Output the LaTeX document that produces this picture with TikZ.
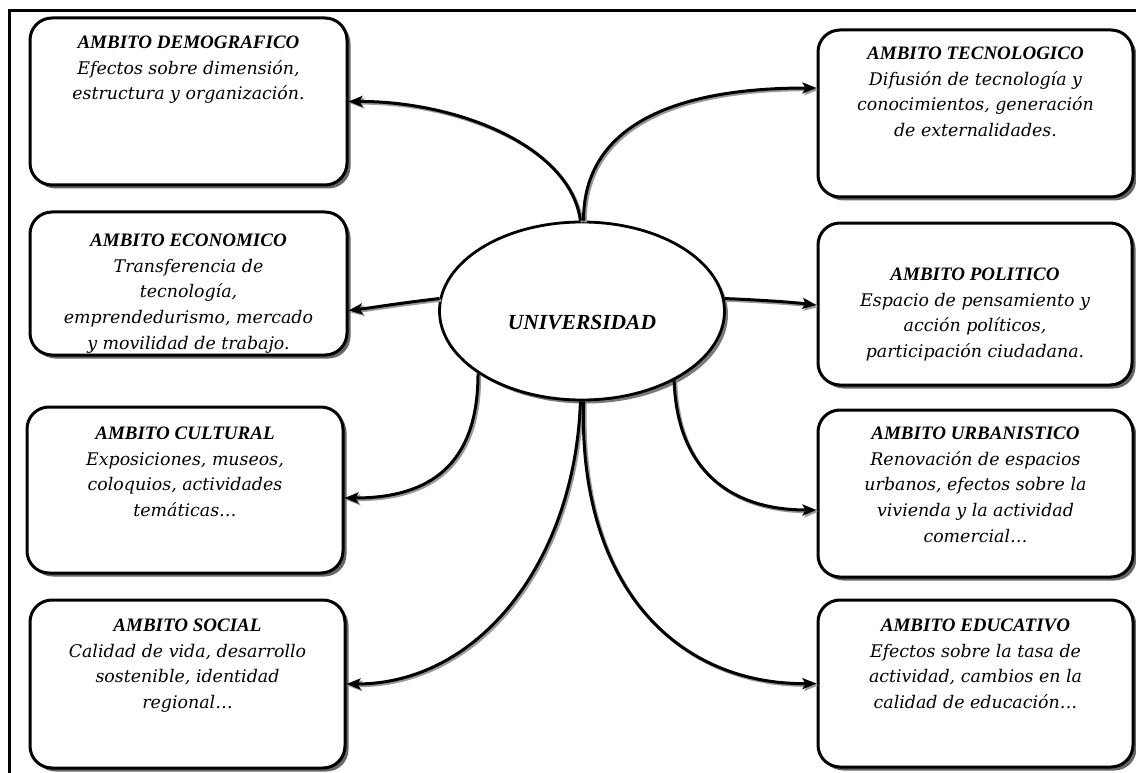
\documentclass[tikz,border=0pt]{standalone}
\usepackage{fontspec}
\setmainfont{Liberation Serif}
\newfontfamily\bodyfont{DejaVu Serif}
\newfontfamily\headfont{Liberation Serif}
\usetikzlibrary{shapes.geometric,shadows,arrows.meta}
\newcommand\hdr{\headfont\bfseries\itshape\fontsize{19}{25.5}\selectfont}

\tikzset{
  ambox/.style={draw, line width=3pt, rounded corners=22pt, fill=white,
    drop shadow={shadow xshift=3.5pt, shadow yshift=-3.5pt, opacity=.8, fill=black!75}},
  amtext/.style={anchor=north, inner sep=0pt, align=center,
    font=\bodyfont\itshape\fontsize{17.4}{25.8}\selectfont},
  conn/.style={line width=3pt, -{Stealth[length=14pt,width=11pt,inset=3pt]},
    preaction={draw=black!40, line width=2.8pt,
      transform canvas={shift={(1.8pt,-1.8pt)}}}},
}

\begin{document}
\begin{tikzpicture}[x=1pt, y=-1pt]
\useasboundingbox (0,0) rectangle (1136,773);

% page frame
\draw[line width=3pt] (9,790) -- (9,11) -- (1150,11);

% central ellipse
\node[ellipse, draw, line width=2.8pt, fill=white, minimum width=285pt, minimum height=178pt,
  drop shadow={shadow xshift=3.5pt, shadow yshift=-3.5pt, opacity=.7, fill=black!75}]
  (U) at (582,311) {};
\node[font=\headfont\bfseries\itshape\fontsize{21.5}{26}\selectfont] (Ut) at (582,323) {UNIVERSIDAD};

% left column
\node[ambox, minimum width=317pt, minimum height=167pt] (D) at (188.5,101.5) {};
\node[ambox, minimum width=317pt, minimum height=143pt] (E) at (188.5,283.5) {};
\node[ambox, minimum width=316pt, minimum height=166pt] (C) at (185,490) {};
\node[ambox, minimum width=315pt, minimum height=168pt] (S) at (187.5,684) {};

% right column
\node[ambox, minimum width=315pt, minimum height=167pt] (T) at (975.5,113.5) {};
\node[ambox, minimum width=314pt, minimum height=162pt] (P) at (975,304) {};
\node[ambox, minimum width=315pt, minimum height=167pt] (R) at (975.5,493.5) {};
\node[ambox, minimum width=315pt, minimum height=167pt] (V) at (975.5,683.5) {};

% box texts
\node[amtext] (Dt) at ([yshift=-19pt]D.north)
  {{\hdr AMBITO DEMOGRAFICO}\\Efectos sobre dimensión,\\estructura y organización.};
\node[amtext] (Et) at ([yshift=-23pt]E.north)
  {{\hdr AMBITO ECONOMICO}\\Transferencia de\\tecnología,\\emprendedurismo, mercado\\y movilidad de trabajo.};
\node[amtext] (Ct) at ([yshift=-21pt]C.north)
  {{\hdr AMBITO CULTURAL}\\Exposiciones, museos,\\coloquios, actividades\\temáticas…};
\node[amtext] (St) at ([yshift=-20pt]S.north)
  {{\hdr AMBITO SOCIAL}\\Calidad de vida, desarrollo\\sostenible, identidad\\regional…};
\node[amtext] (Tt) at ([yshift=-18pt]T.north)
  {{\hdr AMBITO TECNOLOGICO}\\Difusión de tecnología y\\conocimientos, generación\\de externalidades.};
\node[amtext] (Pt) at ([yshift=-46pt]P.north)
  {{\hdr AMBITO POLITICO}\\Espacio de pensamiento y\\acción políticos,\\participación ciudadana.};
\node[amtext] (Rt) at ([yshift=-18pt]R.north)
  {{\hdr AMBITO URBANISTICO}\\Renovación de espacios\\urbanos, efectos sobre la\\vivienda y la actividad\\comercial…};
\node[amtext] (Vt) at ([yshift=-20pt]V.north)
  {{\hdr AMBITO EDUCATIVO}\\Efectos sobre la tasa de\\actividad, cambios en la\\calidad de educación…};

% connectors
\draw[conn] (U.91) .. controls (570,145) and (455,101) .. (D.east);
\draw[conn] (U.89) .. controls (583,140) and (650,88) .. ([yshift=25.5pt]T.west);
\draw[conn] (U.175) .. controls (400,303) and (370,308) .. ([yshift=-27pt]E.east);
\draw[conn] (U.5) .. controls (760,300) and (790,302) .. ([yshift=-1pt]P.west);
\draw[conn] (U.211) .. controls (478,455) and (440,498) .. ([yshift=-8pt]C.east);
\draw[conn] (U.-91) .. controls (575,560) and (480,684) .. (S.east);
\draw[conn] (U.-37) .. controls (677,470) and (730,510) .. ([yshift=-16.5pt]R.west);
\draw[conn] (U.-89) .. controls (578,590) and (680,685) .. (V.west);
\end{tikzpicture}
\end{document}
